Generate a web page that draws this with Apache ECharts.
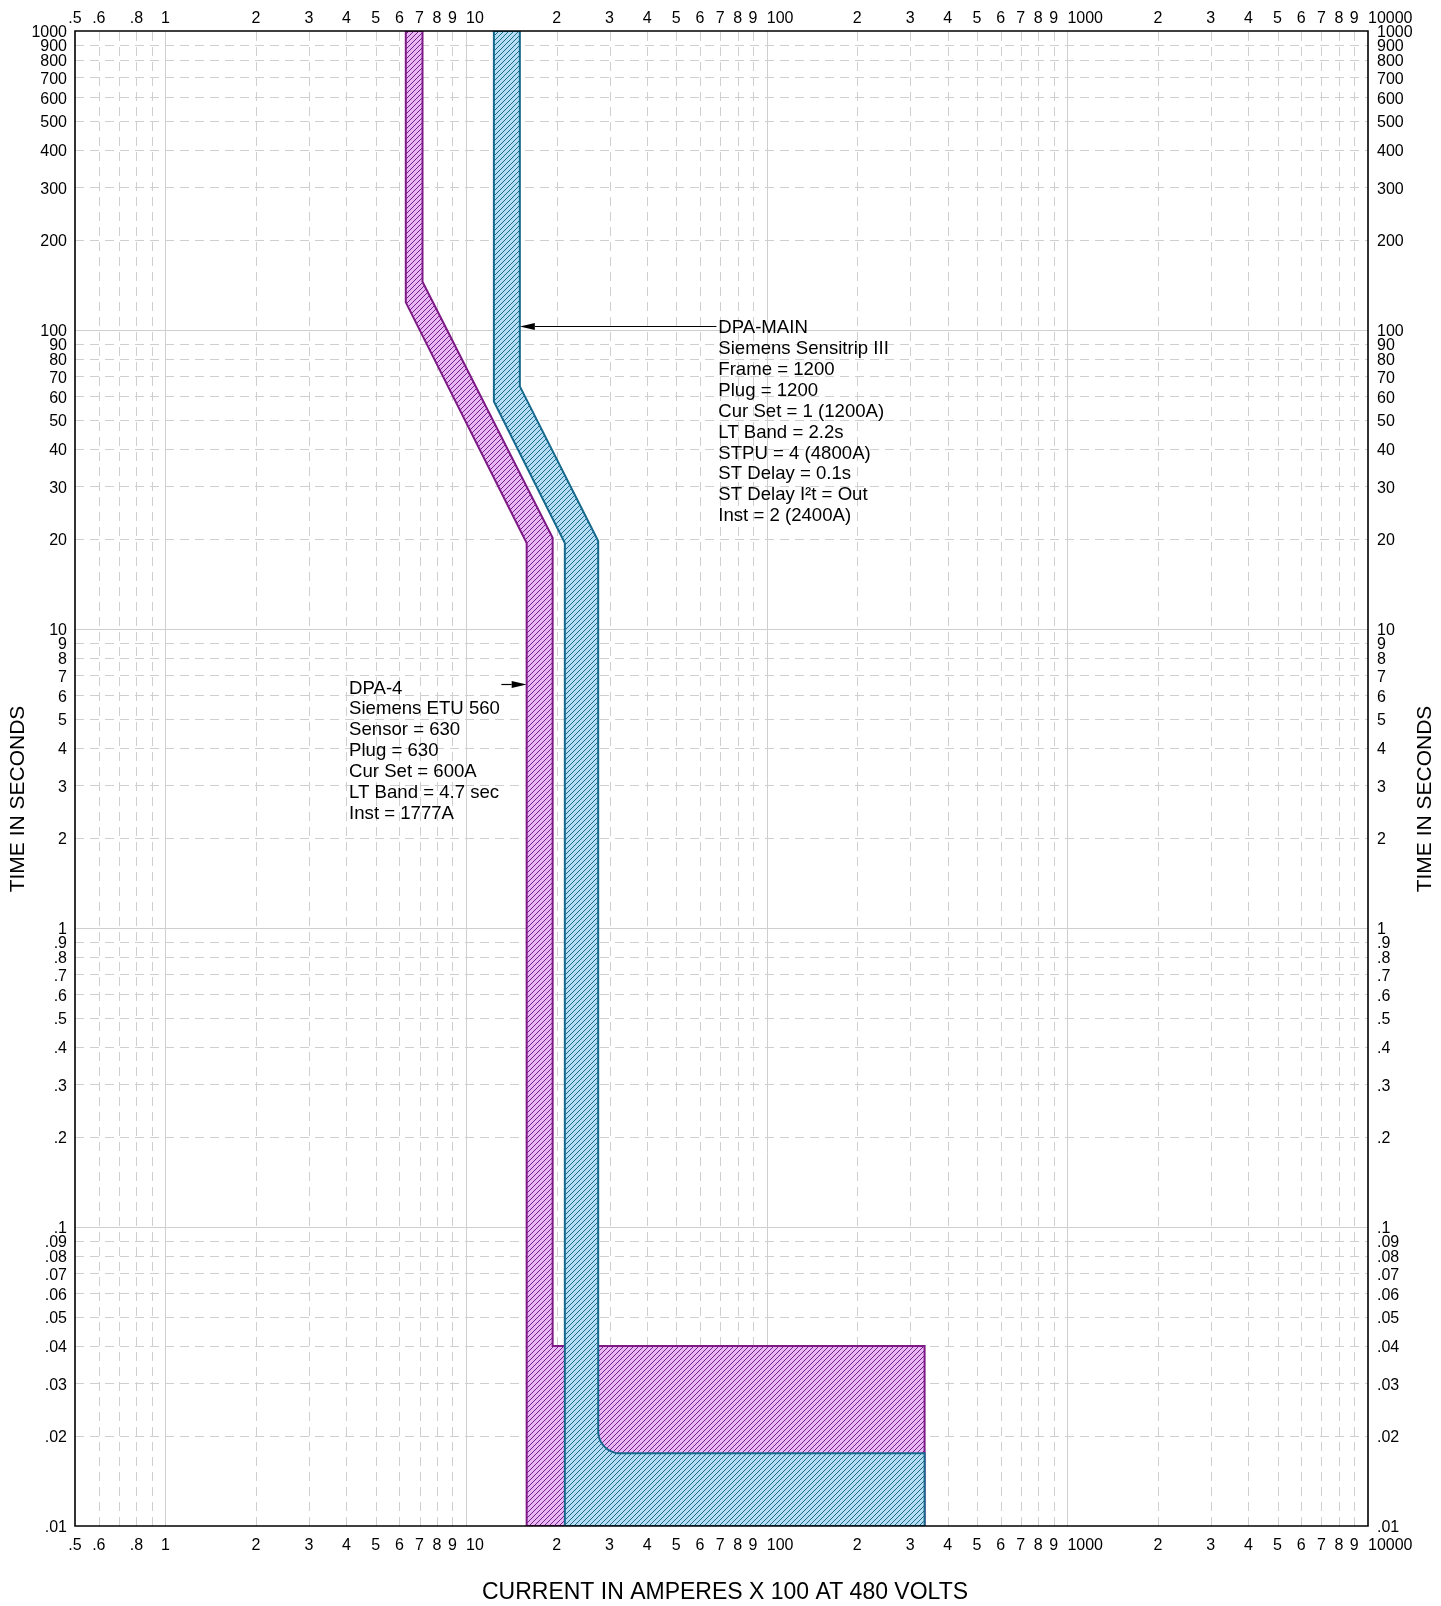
<!DOCTYPE html>
<html>
<head>
<meta charset="utf-8">
<script src="https://cdn.jsdelivr.net/npm/echarts@6/dist/echarts.min.js"></script>
<style>
  html, body { margin: 0; padding: 0; background: #ffffff; }
  #chart { width: 1441px; height: 1606px; }
</style>
</head>
<body>
<div id="chart"></div>
<script>
// ---- Axis ranges (current x100 A, time in seconds) ----
const xRange = [0.5, 10000];
const yRange = [0.01, 1000];

// ---- Tick label values ----
const xLabelValues = [0.5, 0.6, 0.8, 1, 2, 3, 4, 5, 6, 7, 8, 9, 10,
  20, 30, 40, 50, 60, 70, 80, 90, 100, 200, 300, 400, 500, 600, 700, 800, 900,
  1000, 2000, 3000, 4000, 5000, 6000, 7000, 8000, 9000, 10000];
const yLabelValues = [0.01, 0.02, 0.03, 0.04, 0.05, 0.06, 0.07, 0.08, 0.09,
  0.1, 0.2, 0.3, 0.4, 0.5, 0.6, 0.7, 0.8, 0.9, 1, 2, 3, 4, 5, 6, 7, 8, 9,
  10, 20, 30, 40, 50, 60, 70, 80, 90, 100, 200, 300, 400, 500, 600, 700, 800, 900, 1000];

// ---- Grid lines ----
const xMajorGrid = [1, 10, 100, 1000];
const xMinorGrid = [0.6, 0.7, 0.8, 0.9, 2, 3, 4, 5, 6, 7, 8, 9,
  20, 30, 40, 50, 60, 70, 80, 90, 200, 300, 400, 500, 600, 700, 800, 900,
  2000, 3000, 4000, 5000, 6000, 7000, 8000, 9000];
const yMajorGrid = [0.1, 1, 10, 100];
const yMinorGrid = [0.02, 0.03, 0.04, 0.05, 0.06, 0.07, 0.08, 0.09,
  0.2, 0.3, 0.4, 0.5, 0.6, 0.7, 0.8, 0.9, 2, 3, 4, 5, 6, 7, 8, 9,
  20, 30, 40, 50, 60, 70, 80, 90, 200, 300, 400, 500, 600, 700, 800, 900];

// ---- DPA-4 trip band outline (Siemens ETU 560) ----
const dpa4Current = [6.3, 7.16, 7.16, 19.4, 19.4, 335, 335, 15.9, 15.9, 6.3];
const dpa4Time    = [1000, 1000, 145, 20.2, 0.04, 0.04, 0.01, 0.01, 19.4, 123.7];

// ---- DPA-MAIN trip band outline (Siemens Sensitrip III) ----
const mainCurrent = [12.37, 15.09, 15.09, 27.5, 27.5, 335, 335, 21.3, 21.3, 12.37];
const mainTime    = [1000, 1000, 64.8, 19.7, 0.0175, 0.0175, 0.01, 0.01, 19.4, 57.7];
const mainRoundedVertex = 4;

// ---- Device labels ----
const mainLabelLines = ['DPA-MAIN', 'Siemens Sensitrip III', 'Frame = 1200', 'Plug = 1200',
  'Cur Set = 1 (1200A)', 'LT Band = 2.2s', 'STPU = 4 (4800A)', 'ST Delay = 0.1s',
  'ST Delay I\u00B2t = Out', 'Inst = 2 (2400A)'];
const mainLabelAt = [69, 101.5];
const mainArrowFrom = [68, 103];
const mainArrowTo = [15.09, 103];

const dpa4LabelLines = ['DPA-4', 'Siemens ETU 560', 'Sensor = 630', 'Plug = 630',
  'Cur Set = 600A', 'LT Band = 4.7 sec', 'Inst = 1777A'];
const dpa4LabelAt = [4.08, 6.33];
const dpa4ArrowFrom = [13.1, 6.55];
const dpa4ArrowTo = [15.9, 6.55];

const FONT = '"Liberation Sans", Arial, Helvetica, sans-serif';

function hatch(bg, ink, size) {
  const c = document.createElement('canvas');
  c.width = c.height = size;
  const g = c.getContext('2d');
  g.fillStyle = bg;
  g.fillRect(0, 0, size, size);
  g.fillStyle = ink;
  for (let i = 0; i < size; i++) g.fillRect(i, size - 1 - i, 1, 1);
  return c;
}
const dpa4Pattern = hatch('#e9b8f4', '#74208a', 5);
const mainPattern = hatch('#b5def4', '#1b6a8a', 5);

function clean(v) { return Number(Number(v).toPrecision(6)); }

// keep the end values just inside the axis extent so their labels survive rounding
function insideExtent(values, range) {
  return values.map(v => v >= range[1] ? v * (1 - 1e-9) : (v <= range[0] ? v * (1 + 1e-9) : v));
}

function fmtY(v) {
  v = clean(v);
  let s = String(v);
  if (v < 1) s = s.replace(/^0/, '');
  return '{y|' + s + '}';
}
function fmtX(v) {
  v = clean(v);
  if (v < 1) return String(v).replace(/^0/, '');
  const p = Math.pow(10, Math.floor(Math.log10(v) + 1e-9));
  const lead = Math.round(v / p);
  if (lead === 1) {
    const s = String(v);
    return s.length > 1 ? '{w' + s.length + '|' + s + '}' : s;
  }
  return String(lead);
}
const digitW = 8.9;
const xRich = {};
[2, 3, 4, 5].forEach(n => {
  xRich['w' + n] = { fontSize: 16, fontFamily: FONT, color: '#000', padding: [0, 0, 0, n * digitW] };
});
const yRich = { y: { fontSize: 16, fontFamily: FONT, color: '#000', lineHeight: 8, padding: [4, 0, 0, 0] } };

// the time labels sit very close near the top of each decade, so they are spread
// over two stacked axes per side (alternate values) to keep every one of them shown
const yLabelsEven = yLabelValues.filter((v, i) => i % 2 === 0);
const yLabelsOdd = yLabelValues.filter((v, i) => i % 2 === 1);

function gridLineSeries(values, vertical, dashed) {
  return {
    type: 'custom',
    coordinateSystem: 'cartesian2d',
    silent: true,
    animation: false,
    z: 1,
    clip: false,
    data: values.map(v => vertical ? [v, yRange[0]] : [xRange[0], v]),
    renderItem(params, api) {
      let p1, p2;
      if (vertical) {
        p1 = api.coord([api.value(0), yRange[0]]);
        p2 = api.coord([api.value(0), yRange[1]]);
        const x = Math.round(p1[0]) + 0.5;
        p1[0] = x; p2[0] = x;
      } else {
        p1 = api.coord([xRange[0], api.value(1)]);
        p2 = api.coord([xRange[1], api.value(1)]);
        const y = Math.round(p1[1]) + 0.5;
        p1[1] = y; p2[1] = y;
      }
      return {
        type: 'line',
        shape: { x1: p1[0], y1: p1[1], x2: p2[0], y2: p2[1] },
        style: { stroke: '#cfcfcf', lineWidth: 1, lineDash: dashed ? [9, 6] : null }
      };
    }
  };
}

function bandSeries(name, xs, ys, pattern, stroke, z, roundIdx, radius) {
  return {
    type: 'custom',
    name,
    coordinateSystem: 'cartesian2d',
    silent: true,
    animation: false,
    clip: true,
    z,
    data: [[xs[0], ys[0]]],
    renderItem(params, api) {
      const pts = [];
      xs.forEach((x, i) => {
        const p = api.coord([x, ys[i]]);
        if (i === roundIdx) {
          const prev = api.coord([xs[i - 1], ys[i - 1]]);
          const next = api.coord([xs[i + 1], ys[i + 1]]);
          const ux1 = (prev[0] - p[0]), uy1 = (prev[1] - p[1]);
          const l1 = Math.hypot(ux1, uy1);
          const ux2 = (next[0] - p[0]), uy2 = (next[1] - p[1]);
          const l2 = Math.hypot(ux2, uy2);
          const a = [p[0] + ux1 / l1 * radius, p[1] + uy1 / l1 * radius];
          const b = [p[0] + ux2 / l2 * radius, p[1] + uy2 / l2 * radius];
          // quarter-round corner between a and b
          const cx = a[0] + (b[0] - p[0]);
          const cy = a[1] + (b[1] - p[1]);
          const a0 = Math.atan2(a[1] - cy, a[0] - cx);
          const a1 = Math.atan2(b[1] - cy, b[0] - cx);
          let d = a1 - a0;
          if (d > Math.PI) d -= 2 * Math.PI;
          if (d < -Math.PI) d += 2 * Math.PI;
          const steps = 16;
          for (let k = 0; k <= steps; k++) {
            const t = a0 + d * k / steps;
            pts.push([cx + radius * Math.cos(t), cy + radius * Math.sin(t)]);
          }
        } else {
          pts.push(p);
        }
      });
      return {
        type: 'polygon',
        shape: { points: pts },
        style: { fill: { image: pattern, repeat: 'repeat' }, stroke, lineWidth: 2, lineJoin: 'miter' }
      };
    }
  };
}

function annotationSeries(lines, at, from, to) {
  return {
    type: 'custom',
    coordinateSystem: 'cartesian2d',
    silent: true,
    animation: false,
    clip: false,
    z: 6,
    data: [[at[0], at[1]]],
    renderItem(params, api) {
      const t = api.coord(at);
      const f = api.coord(from);
      const e = api.coord(to);
      const children = [];
      lines.forEach((s, i) => {
        children.push({
          type: 'text',
          x: t[0], y: t[1] + i * 20.9,
          style: { text: s, fill: '#000', font: '18.6px ' + FONT, align: 'left', verticalAlign: 'middle' }
        });
      });
      const dir = Math.sign(e[0] - f[0]);
      const headLen = 15, headHalf = 3.4;
      const y = Math.round(f[1]) + 0.5;
      children.push({
        type: 'line',
        shape: { x1: f[0], y1: y, x2: e[0] - dir * headLen, y2: y },
        style: { stroke: '#000', lineWidth: 1.2 }
      });
      children.push({
        type: 'polygon',
        shape: { points: [[e[0], y], [e[0] - dir * headLen, y - headHalf], [e[0] - dir * headLen, y + headHalf]] },
        style: { fill: '#000' }
      });
      return { type: 'group', children };
    }
  };
}

const borderSeries = {
  type: 'custom',
  coordinateSystem: 'cartesian2d',
  silent: true,
  animation: false,
  clip: false,
  z: 10,
  data: [[xRange[0], yRange[1]]],
  renderItem(params, api) {
    const tl = api.coord([xRange[0], yRange[1]]);
    const br = api.coord([xRange[1], yRange[0]]);
    return {
      type: 'rect',
      shape: { x: tl[0], y: tl[1], width: br[0] - tl[0], height: br[1] - tl[1] },
      style: { fill: null, stroke: '#000', lineWidth: 1.6 }
    };
  }
};

const xAxisBase = {
  type: 'log',
  logBase: 10,
  min: xRange[0],
  max: xRange[1],
  axisLine: { show: false },
  axisTick: { show: false },
  splitLine: { show: false },
  minorTick: { show: false },
  minorSplitLine: { show: false },
  axisLabel: {
    customValues: insideExtent(xLabelValues, xRange),
    formatter: fmtX,
    rich: xRich,
    fontSize: 16,
    fontFamily: FONT,
    color: '#000',
    showMinLabel: true,
    showMaxLabel: true,
    hideOverlap: false
  }
};
function yAxisDef(position, margin, values) {
  return {
    type: 'log',
    logBase: 10,
    min: yRange[0],
    max: yRange[1],
    position,
    offset: 0,
    axisLine: { show: false },
    axisTick: { show: false },
    splitLine: { show: false },
    minorTick: { show: false },
    minorSplitLine: { show: false },
    axisLabel: {
      customValues: insideExtent(values, yRange),
      formatter: fmtY,
      rich: yRich,
      fontSize: 16,
      lineHeight: 8,
      fontFamily: FONT,
      color: '#000',
      margin,
      showMinLabel: true,
      showMaxLabel: true,
      hideOverlap: false
    }
  };
}

const chart = echarts.init(document.getElementById('chart'), null, { renderer: 'canvas' });
chart.setOption({
  animation: false,
  backgroundColor: '#ffffff',
  grid: {
    left: 75, top: 31, width: 1293, height: 1495,
    containLabel: false,
    outerBoundsMode: 'none',
    show: false
  },
  xAxis: [
    Object.assign({}, xAxisBase, { position: 'bottom', axisLabel: Object.assign({}, xAxisBase.axisLabel, { margin: 12 }) }),
    Object.assign({}, xAxisBase, { position: 'top', axisLabel: Object.assign({}, xAxisBase.axisLabel, { margin: 4 }) })
  ],
  yAxis: [
    yAxisDef('left', 8, yLabelsEven),
    yAxisDef('right', 9, yLabelsEven),
    yAxisDef('left', 8, yLabelsOdd),
    yAxisDef('right', 9, yLabelsOdd)
  ],
  graphic: [
    {
      type: 'text', x: 18, y: 799, rotation: Math.PI / 2,
      style: { text: 'TIME IN SECONDS', font: '21px ' + FONT, fill: '#000', align: 'center', verticalAlign: 'middle' }
    },
    {
      type: 'text', x: 1425, y: 799, rotation: Math.PI / 2,
      style: { text: 'TIME IN SECONDS', font: '21px ' + FONT, fill: '#000', align: 'center', verticalAlign: 'middle' }
    },
    {
      type: 'text', x: 725, y: 1593,
      style: { text: 'CURRENT IN AMPERES X 100 AT 480 VOLTS', font: '23px ' + FONT, fill: '#000', align: 'center', verticalAlign: 'middle' }
    }
  ],
  series: [
    gridLineSeries(xMinorGrid, true, true),
    gridLineSeries(yMinorGrid, false, true),
    gridLineSeries(xMajorGrid, true, false),
    gridLineSeries(yMajorGrid, false, false),
    bandSeries('DPA-4', dpa4Current, dpa4Time, dpa4Pattern, '#7d1a86', 3, -1, 0),
    bandSeries('DPA-MAIN', mainCurrent, mainTime, mainPattern, '#16698c', 4, mainRoundedVertex, 22),
    annotationSeries(mainLabelLines, mainLabelAt, mainArrowFrom, mainArrowTo),
    annotationSeries(dpa4LabelLines, dpa4LabelAt, dpa4ArrowFrom, dpa4ArrowTo),
    borderSeries
  ]
});
</script>
</body>
</html>
